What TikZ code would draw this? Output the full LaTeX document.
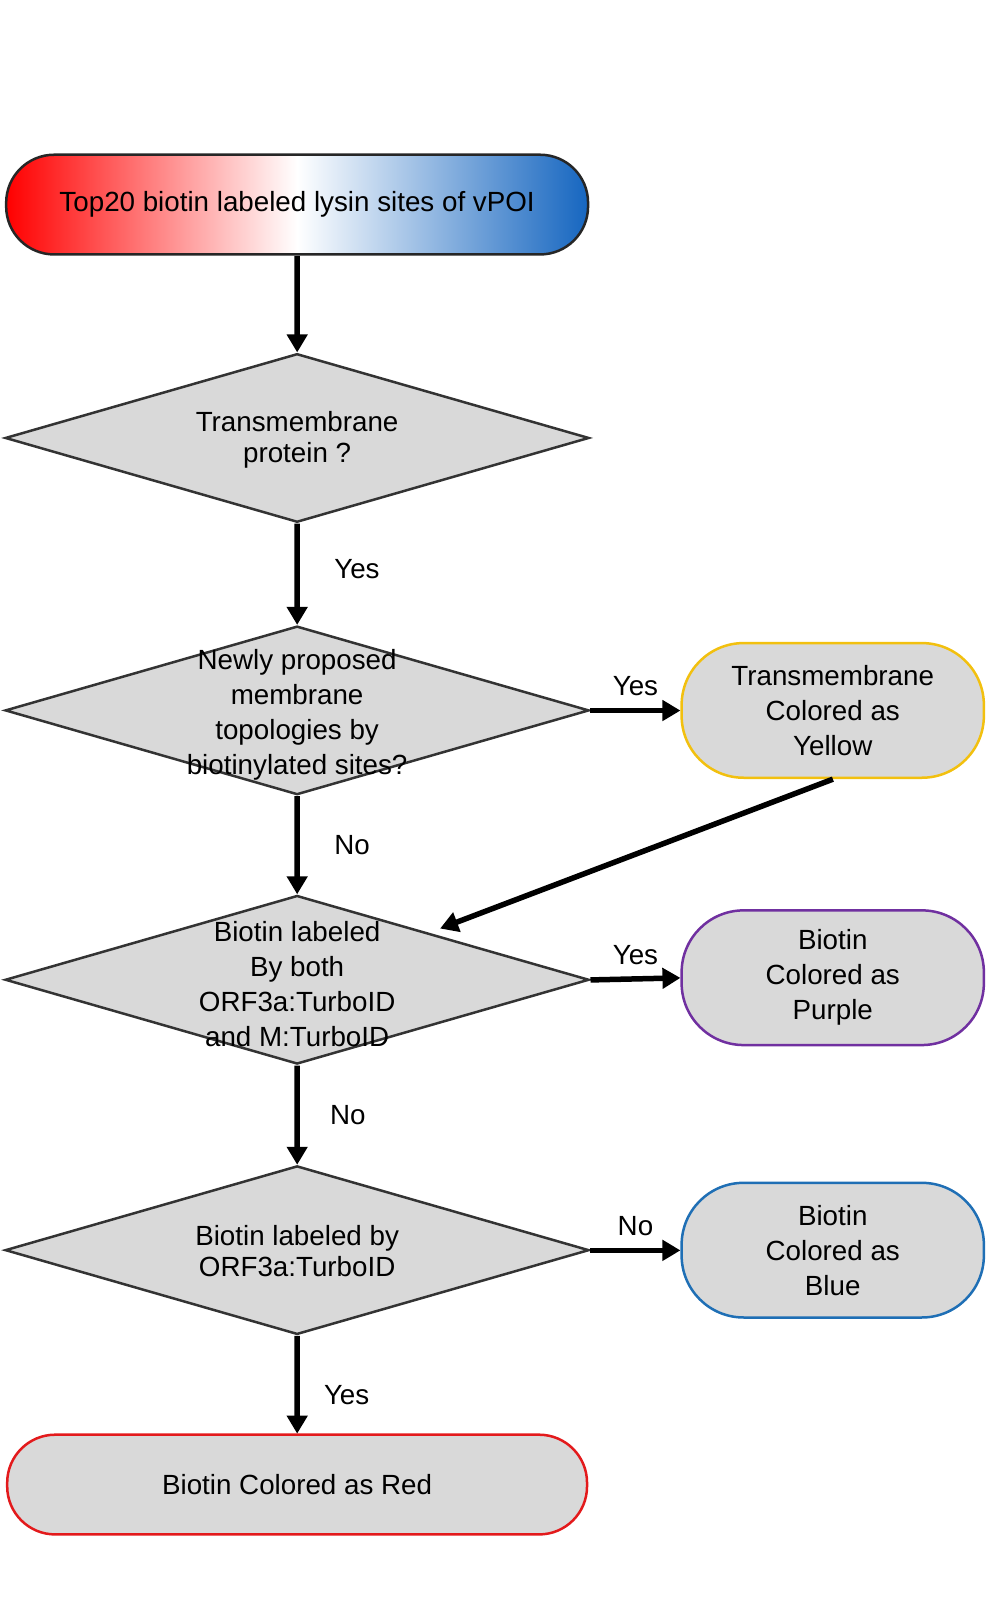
\documentclass[tikz,border=0pt]{standalone}
\usepackage{fontspec}
\setmainfont{Liberation Sans}
\usetikzlibrary{shapes.geometric,arrows.meta}
\definecolor{boxgray}{HTML}{D9D9D9}
\definecolor{myyellow}{HTML}{F2C00F}
\definecolor{mypurple}{HTML}{7030A0}
\definecolor{myblue}{HTML}{1F6FB5}
\definecolor{myred}{HTML}{E31A1C}
\definecolor{gradblue}{HTML}{1666C0}
\begin{document}
\begin{tikzpicture}[x=1pt,y=-1pt,scale=1.028,
  every node/.style={font=\fontsize{27}{34}\selectfont, align=center, transform shape},
  dia/.style={draw=black!80, line width=2.5pt, fill=boxgray, shape=diamond, aspect=3.5, minimum width=568pt, minimum height=164pt, inner sep=0pt},
  term/.style={draw, line width=2.5pt, fill=boxgray, rounded corners=48pt, minimum width=#1, minimum height=97pt, inner sep=0pt},
  sterm/.style={draw, line width=2.5pt, fill=boxgray, rounded corners=62pt, minimum width=294pt, minimum height=131pt, inner sep=0pt},
  arr/.style={line width=5.5pt, -{Triangle[length=18pt,width=20pt]}}]
\useasboundingbox (0,0) rectangle (970,1567);
\node[term=566pt, left color=red, right color=gradblue, middle color=white, draw=black!85] (top) at (289,199) {Top20 biotin labeled lysin sites of vPOI};
\node[dia] (d1) at (289,426) {};
\node at (289,428) {Transmembrane\\[-4pt]protein ?};
\node[dia] (d2) at (289,691) {};
\node at (289,695) {Newly proposed\\membrane\\topologies by\\biotinylated sites?};
\node[dia] (d3) at (289,953) {};
\node at (289,957) {Biotin labeled\\By both\\ORF3a:TurboID\\and M:TurboID};
\node[dia] (d4) at (289,1216) {};
\node at (289,1217) {Biotin labeled by\\[-4pt]ORF3a:TurboID};
\node[term=564pt, draw=myred] (red) at (289,1444) {Biotin Colored as Red};
\node[sterm, draw=myyellow] (yel) at (810,691) {Transmembrane\\Colored as\\Yellow};
\node[sterm, draw=mypurple] (pur) at (810,951) {Biotin\\Colored as\\Purple};
\node[sterm, draw=myblue] (blu) at (810,1216) {Biotin\\Colored as\\Blue};
\draw[arr] (top) -- (d1);
\draw[arr] (d1) -- node[right=30pt, pos=0.45] {Yes} (d2);
\draw[arr] (d2) -- node[right=30pt, pos=0.5] {No} (d3);
\draw[arr] (d3) -- node[right=26pt, pos=0.5] {No} (d4);
\draw[arr] (d4) -- node[right=20pt, pos=0.6] {Yes} (red);
\draw[arr] (d2.east) -- node[above=8pt] {Yes} (yel.west);
\draw[arr] (d3.east) -- node[above=8pt] {Yes} (pur.west);
\draw[arr] (d4.east) -- node[above=8pt] {No} (blu.west);
\coordinate (dt) at (428,903);
\draw[arr] (yel.south) -- (dt);
\end{tikzpicture}
\end{document}
